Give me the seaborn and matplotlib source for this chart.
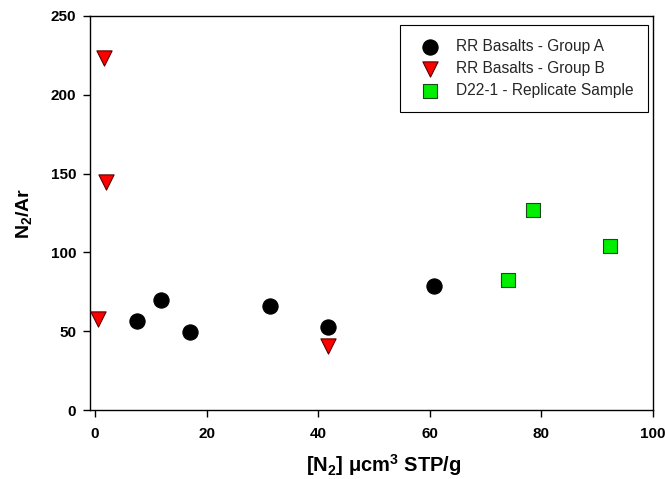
import matplotlib
matplotlib.use("Agg")
import matplotlib.pyplot as plt
import seaborn as sns
import pandas as pd

# N2 concentration (ucm3 STP/g) and N2/Ar ratio per sample group
group_a_n2 = [7.5, 11.8, 17.0, 31.3, 41.8, 60.7]
group_a_ratio = [56.5, 69.8, 49.5, 66.0, 52.7, 78.7]

group_b_n2 = [1.6, 1.9, 0.5, 41.7]
group_b_ratio = [223.5, 144.7, 57.7, 40.9]

replicate_n2 = [74.0, 78.5, 92.3]
replicate_ratio = [82.7, 126.7, 103.9]

labels = ["RR Basalts - Group A", "RR Basalts - Group B", "D22-1 - Replicate Sample"]

x_ticks = [0, 20, 40, 60, 80, 100]
y_ticks = [0, 50, 100, 150, 200, 250]

sns.set_theme(style="white")
plt.rcParams["font.family"] = ["Liberation Sans", "DejaVu Sans"]
plt.rcParams["mathtext.fontset"] = "custom"
plt.rcParams["mathtext.rm"] = "Liberation Sans:bold"
plt.rcParams["mathtext.bf"] = "Liberation Sans:bold"
plt.rcParams["mathtext.it"] = "Liberation Sans:bold"

frames = []
for lab, xs, ys in [(labels[0], group_a_n2, group_a_ratio),
                    (labels[1], group_b_n2, group_b_ratio),
                    (labels[2], replicate_n2, replicate_ratio)]:
    frames.append(pd.DataFrame({"n2": xs, "ratio": ys, "group": lab}))
df = pd.concat(frames, ignore_index=True)

styles = {
    labels[0]: dict(marker="o", color="black", s=120, edgecolor="black"),
    labels[1]: dict(marker="v", color="#ff0000", s=120, edgecolor="#5a0000"),
    labels[2]: dict(marker="s", color="#00ee00", s=88, edgecolor="#1a4a1a"),
}

fig = plt.figure(figsize=(6.65, 4.79), dpi=100)
ax = fig.add_axes([0.1353, 0.144, 0.8467, 0.8226])

for lab in labels:
    st = styles[lab]
    sns.scatterplot(data=df[df["group"] == lab], x="n2", y="ratio", ax=ax,
                    marker=st["marker"], color=st["color"], s=st["s"],
                    edgecolor=st["edgecolor"], linewidth=0.8, label=lab,
                    zorder=3)

ax.set_xlim(-0.9, 100)
ax.set_ylim(0, 250)
ax.set_xticks(x_ticks)
ax.set_yticks(y_ticks)
ax.set_xticklabels([str(t) for t in x_ticks], fontweight="bold", fontsize=11)
ax.set_yticklabels([str(t) for t in y_ticks], fontweight="bold", fontsize=11)

ax.tick_params(axis="x", which="major", direction="out", length=5, width=1,
               color="black", pad=7, bottom=True, top=False, labelcolor="black")
ax.tick_params(axis="y", which="major", direction="out", length=5, width=1,
               color="black", pad=5, left=True, right=False, labelcolor="black")

for sp in ax.spines.values():
    sp.set_color("black")
    sp.set_linewidth(1.0)
    sp.set_visible(True)

ax.set_xlabel(r"[N$_2$] μcm$^3$ STP/g", fontsize=14.5, fontweight="bold",
              color="black")
ax.xaxis.set_label_coords(0.522, -0.108)
ax.set_ylabel(r"N$_2$/Ar", fontsize=14, fontweight="bold", color="black")
ax.yaxis.set_label_coords(-0.1, 0.5)

leg = ax.legend(loc="upper right", bbox_to_anchor=(0.991, 0.977), fontsize=11.2,
                frameon=True, fancybox=False, edgecolor="black", framealpha=1,
                borderpad=0.9, handletextpad=0.7, labelspacing=0.45,
                borderaxespad=0.0, markerscale=1.0)
leg.get_frame().set_linewidth(0.8)

fig.savefig("out.png", dpi=100)
